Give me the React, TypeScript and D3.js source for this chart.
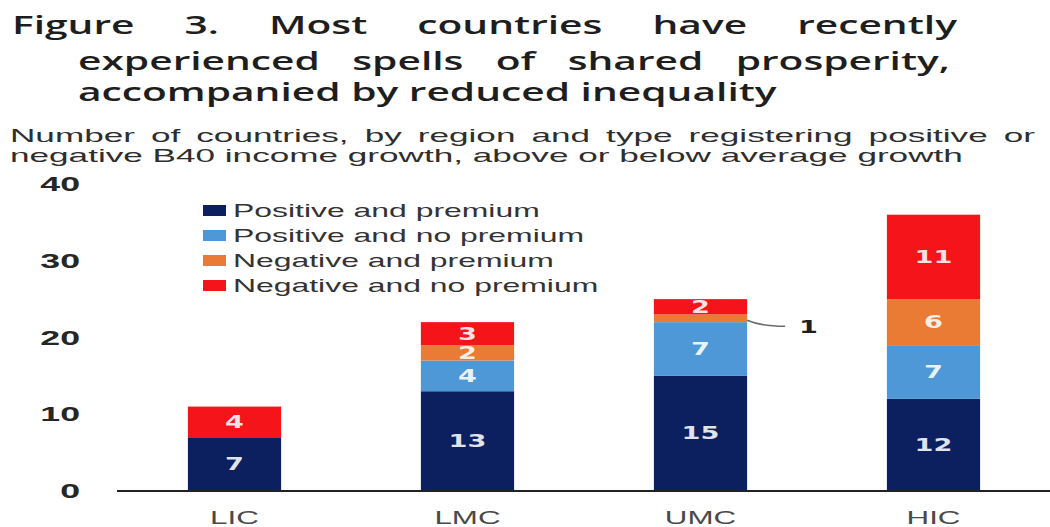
import React from "react";
import * as d3 from "d3";

const categories = ["LIC", "LMC", "UMC", "HIC"];
const seriesNames = [
  "Positive and premium",
  "Positive and no premium",
  "Negative and premium",
  "Negative and no premium",
];
const positivePremium = [7, 13, 15, 12];
const positiveNoPremium = [0, 4, 7, 7];
const negativePremium = [0, 2, 1, 6];
const negativeNoPremium = [4, 3, 2, 11];
const yTicks = [0, 10, 20, 30, 40];
const seriesColors = ["#0c1f5f", "#4e98d8", "#e97b35", "#f5141a"];

const titleLines = [
  "Figure 3. Most countries have recently",
  "experienced spells of shared prosperity,",
  "accompanied by reduced inequality",
];
const subtitleLines = [
  "Number of countries, by region and type registering positive or",
  "negative B40 income growth, above or below average growth",
];

const W = 1050;
const H = 527;

let ctx: CanvasRenderingContext2D | null = null;
function measure(text: string, font: string): number {
  if (!ctx) ctx = document.createElement("canvas").getContext("2d");
  if (!ctx) return text.length * 10;
  ctx.font = font;
  return ctx.measureText(text).width;
}

type TProps = {
  x: number;
  y: number;
  sx: number;
  anchor?: string;
  family: string;
  size: number;
  weight?: string | number;
  fill: string;
  opacity?: number;
  children: React.ReactNode;
};
function SText({ x, y, sx, anchor = "start", family, size, weight = "normal", fill, opacity, children }: TProps) {
  return (
    <text
      transform={`translate(${x},${y}) scale(${sx},1)`}
      textAnchor={anchor}
      fontFamily={family}
      fontSize={size}
      fontWeight={weight}
      fill={fill}
      fillOpacity={opacity}
    >
      {children}
    </text>
  );
}

function justify(line: string, font: string, sx: number, x0: number, x1: number) {
  const words = line.split(" ");
  const widths = words.map((w) => measure(w, font) * sx);
  const total = widths.reduce((a, b) => a + b, 0);
  const gap = words.length > 1 ? (x1 - x0 - total) / (words.length - 1) : 0;
  let x = x0;
  return words.map((w, i) => {
    const p = { word: w, x };
    x += widths[i] + gap;
    return p;
  });
}

export default function App() {
  const titleFamily = "'Open Sans'";
  const titleSize = 25;
  const titleWeight = 600;
  const titleFont = `${titleWeight} ${titleSize}px ${titleFamily}`;
  const titleSx = (777 - 78) / measure(titleLines[2], titleFont);

  const subFamily = "'Liberation Sans', Arial";
  const subSize = 18;
  const subFont = `${subSize}px ${subFamily}`;
  const subSx = (963 - 10) / measure(subtitleLines[1], subFont);

  const axisFamily = "'Liberation Sans', Arial";
  const chartSx = 1.7;

  const margin = { left: 118, right: 1050, top: 184, bottom: 491 };
  const x = d3
    .scaleBand<string>()
    .domain(categories)
    .range([margin.left, margin.right])
    .paddingInner(0.6)
    .paddingOuter(0.3);
  const y = d3.scaleLinear().domain([0, 40]).range([margin.bottom, margin.top]);

  const rows = categories.map((c, i) => ({
    cat: c,
    s0: positivePremium[i],
    s1: positiveNoPremium[i],
    s2: negativePremium[i],
    s3: negativeNoPremium[i],
  }));
  const keys = ["s0", "s1", "s2", "s3"];
  const stacked = d3.stack<any>().keys(keys)(rows);

  const legendX = 203;
  const legendY0 = 210;
  const legendStep = 25;

  const title1 = justify(titleLines[0], titleFont, titleSx, 12, 957);
  const title2 = justify(titleLines[1], titleFont, titleSx, 78, 950);
  const sub1 = justify(subtitleLines[0], subFont, subSx, 10, 1035);

  const labelFamily = "'DejaVu Sans'";

  // callout for small segment
  const calloutCat = "UMC";
  const calloutSeries = 2;
  const cIdx = categories.indexOf(calloutCat);
  const cSeg = stacked[calloutSeries][cIdx];
  const cx0 = (x(calloutCat) as number) + x.bandwidth();
  const cy0 = y((cSeg[0] + cSeg[1]) / 2) + 2;
  const cx1 = cx0 + 38;
  const cy1 = cy0 + 6;

  return (
    <svg width={W} height={H} style={{ position: "absolute", left: 0, top: 0, background: "#fff" }}>
      <rect x={0} y={0} width={W} height={H} fill="#fff" />
      {/* Title */}
      {title1.map((p, i) => (
        <SText key={"t1" + i} x={p.x} y={34} sx={titleSx} family={titleFamily} size={titleSize} weight={titleWeight} fill="#1e1e1e">
          {p.word}
        </SText>
      ))}
      {title2.map((p, i) => (
        <SText key={"t2" + i} x={p.x} y={70} sx={titleSx} family={titleFamily} size={titleSize} weight={titleWeight} fill="#1e1e1e">
          {p.word}
        </SText>
      ))}
      <SText x={78} y={101} sx={titleSx} family={titleFamily} size={titleSize} weight={titleWeight} fill="#1e1e1e">
        {titleLines[2]}
      </SText>

      {/* Subtitle */}
      {sub1.map((p, i) => (
        <SText key={"s1" + i} x={p.x} y={142} sx={subSx} family={subFamily} size={subSize} fill="#2e2e2e">
          {p.word}
        </SText>
      ))}
      <SText x={10} y={162} sx={subSx} family={subFamily} size={subSize} fill="#2e2e2e">
        {subtitleLines[1]}
      </SText>

      {/* Y tick labels */}
      {yTicks.map((t) => (
        <SText key={"yt" + t} x={80} y={y(t) + 7} sx={chartSx} anchor="end" family={axisFamily} size={21} weight="bold" fill="#262626">
          {t}
        </SText>
      ))}

      {/* Bars */}
      {stacked.map((series, si) => (
        <g key={"ser" + si} fill={seriesColors[si]}>
          {series.map((d, ci) =>
            d[1] - d[0] > 0 ? (
              <rect
                key={ci}
                x={x(categories[ci])}
                y={y(d[1])}
                width={x.bandwidth()}
                height={y(d[0]) - y(d[1])}
              />
            ) : null
          )}
        </g>
      ))}

      {/* Bar value labels */}
      {stacked.map((series, si) =>
        series.map((d, ci) => {
          const v = d[1] - d[0];
          if (v < 2) return null;
          return (
            <SText
              key={`lb${si}-${ci}`}
              x={(x(categories[ci]) as number) + x.bandwidth() / 2}
              y={y((d[0] + d[1]) / 2) + 6}
              sx={1.6}
              anchor="middle"
              family={labelFamily}
              size={17}
              weight="bold"
              fill="#ffffff"
              opacity={0.88}
            >
              {v}
            </SText>
          );
        })
      )}

      {/* Callout */}
      <path
        d={`M${cx0},${cy0} Q${cx0 + 14},${cy1} ${cx1},${cy1}`}
        fill="none"
        stroke="#6b6b6b"
        strokeWidth={1.5}
      />
      <SText x={cx1 + 14} y={cy1 + 7} sx={1.6} anchor="start" family={labelFamily} size={17} weight="bold" fill="#1e1e1e">
        {negativePremium[cIdx]}
      </SText>

      {/* Axis line */}
      <line x1={117} x2={W} y1={y(0)} y2={y(0)} stroke="#222" strokeWidth={2} />

      {/* X labels */}
      {categories.map((c) => (
        <SText
          key={"xl" + c}
          x={(x(c) as number) + x.bandwidth() / 2}
          y={524}
          sx={1.65}
          anchor="middle"
          family={axisFamily}
          size={19}
          fill="#4a4a4a"
        >
          {c}
        </SText>
      ))}

      {/* Legend */}
      {seriesNames.map((n, i) => (
        <g key={"lg" + i}>
          <rect x={legendX} y={legendY0 + i * legendStep - 5} width={23} height={11} fill={seriesColors[i]} />
          <SText x={233} y={legendY0 + i * legendStep + 7} sx={1.68} family={axisFamily} size={19} fill="#333">
            {n}
          </SText>
        </g>
      ))}
    </svg>
  );
}
